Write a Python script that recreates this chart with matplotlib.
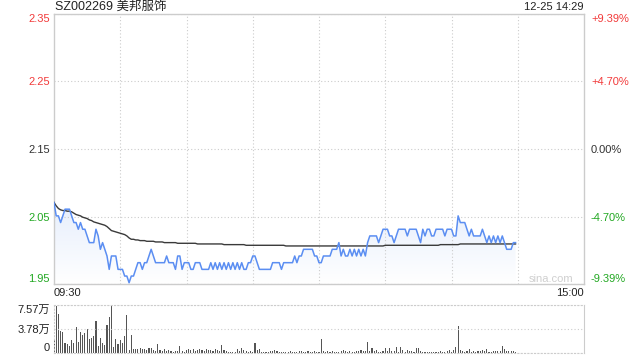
import numpy as np
import matplotlib
matplotlib.use('Agg')
import matplotlib.pyplot as plt
from matplotlib.colors import LinearSegmentedColormap

plt.rcParams['font.family'] = ['Liberation Sans', 'Noto Sans CJK SC']

# ------------------------------------------------------------------------------------------------ #
# data (one value per trading minute from 09:30)
titleText = 'SZ002269 美邦服饰'
stampText = '12-25 14:29'
prevClose = 2.15
limitPct = [-0.0939, -0.047, 0.0, 0.047, 0.0939]
leftTickLabels = ['1.95', '2.05', '2.15', '2.25', '2.35']
rightTickLabels = ['-9.39%', '-4.70%', '0.00%', '+4.70%', '+9.39%']
timeLabels = ['09:30', '15:00']
volTicks = [0, 37850, 75700]
volTickLabels = ['0', '3.78万', '7.57万']

price = [
	2.07, 2.05, 2.05, 2.04, 2.05, 2.06, 2.06, 2.06, 2.05, 2.04,
	2.04, 2.03, 2.04, 2.03, 2.03, 2.02, 2.01, 2.01, 2.01, 2.03,
	2.02, 2.00, 2.01, 2.00, 1.99, 1.97, 1.99, 1.99, 1.99, 1.97,
	1.97, 1.97, 1.96, 1.96, 1.95, 1.96, 1.96, 1.97, 1.98, 1.98,
	1.97, 1.98, 1.98, 1.99, 2.00, 1.99, 1.98, 1.98, 1.98, 1.98,
	1.98, 1.99, 1.98, 1.98, 1.98, 1.97, 1.99, 1.99, 1.97, 1.98,
	1.98, 1.98, 1.97, 1.97, 1.98, 1.98, 1.98, 1.97, 1.97, 1.97,
	1.97, 1.98, 1.97, 1.98, 1.97, 1.98, 1.97, 1.98, 1.97, 1.98,
	1.97, 1.98, 1.97, 1.98, 1.97, 1.98, 1.97, 1.97, 1.98, 1.98,
	1.99, 1.99, 1.98, 1.97, 1.97, 1.97, 1.97, 1.97, 1.97, 1.98,
	1.98, 1.98, 1.98, 1.97, 1.98, 1.98, 1.98, 1.98, 1.98, 1.99,
	1.98, 1.99, 1.99, 2.00, 2.00, 2.00, 2.00, 2.00, 1.99, 1.99,
	1.98, 1.98, 1.99, 1.99, 1.99, 1.99, 2.00, 2.00, 2.00, 2.01,
	1.99, 2.00, 1.99, 1.99, 2.00, 1.99, 2.00, 1.99, 2.00, 1.99,
	2.00, 1.99, 2.01, 2.02, 2.02, 2.02, 2.02, 2.01, 2.02, 2.03,
	2.03, 2.03, 2.02, 2.02, 2.01, 2.02, 2.03, 2.03, 2.03, 2.03,
	2.02, 2.03, 2.03, 2.03, 2.03, 2.02, 2.01, 2.03, 2.02, 2.03,
	2.03, 2.02, 2.02, 2.03, 2.03, 2.03, 2.03, 2.02, 2.03, 2.03,
	2.03, 2.02, 2.02, 2.05, 2.04, 2.04, 2.04, 2.03, 2.02, 2.03,
	2.02, 2.02, 2.02, 2.02, 2.03, 2.02, 2.01, 2.02, 2.01, 2.02,
	2.01, 2.02, 2.01, 2.02, 2.01, 2.00, 2.00, 2.00, 2.01, 2.01,
]

avgPrice = [
	2.070, 2.065, 2.061, 2.059, 2.058, 2.058, 2.057, 2.057, 2.056, 2.054,
	2.052, 2.051, 2.050, 2.048, 2.047, 2.046, 2.044, 2.043, 2.041, 2.040,
	2.039, 2.038, 2.037, 2.036, 2.034, 2.031, 2.028, 2.027, 2.026, 2.025,
	2.024, 2.023, 2.022, 2.020, 2.017, 2.015, 2.015, 2.014, 2.014, 2.013,
	2.013, 2.013, 2.012, 2.012, 2.012, 2.012, 2.011, 2.011, 2.011, 2.011,
	2.010, 2.010, 2.010, 2.010, 2.010, 2.010, 2.009, 2.009, 2.009, 2.009,
	2.009, 2.009, 2.009, 2.009, 2.009, 2.008, 2.008, 2.008, 2.008, 2.008,
	2.008, 2.008, 2.008, 2.008, 2.008, 2.008, 2.008, 2.007, 2.007, 2.007,
	2.007, 2.007, 2.007, 2.007, 2.007, 2.007, 2.007, 2.006, 2.006, 2.006,
	2.006, 2.006, 2.006, 2.006, 2.006, 2.006, 2.006, 2.006, 2.006, 2.006,
	2.006, 2.006, 2.006, 2.006, 2.006, 2.005, 2.005, 2.005, 2.005, 2.005,
	2.005, 2.005, 2.005, 2.005, 2.005, 2.005, 2.005, 2.005, 2.005, 2.005,
	2.005, 2.005, 2.005, 2.005, 2.005, 2.005, 2.005, 2.005, 2.005, 2.005,
	2.005, 2.005, 2.005, 2.005, 2.005, 2.005, 2.005, 2.005, 2.005, 2.005,
	2.005, 2.005, 2.005, 2.005, 2.005, 2.005, 2.005, 2.005, 2.005, 2.005,
	2.006, 2.006, 2.006, 2.006, 2.006, 2.006, 2.006, 2.006, 2.006, 2.006,
	2.006, 2.006, 2.006, 2.006, 2.006, 2.006, 2.006, 2.006, 2.006, 2.006,
	2.006, 2.006, 2.006, 2.006, 2.006, 2.007, 2.007, 2.007, 2.007, 2.007,
	2.007, 2.007, 2.007, 2.007, 2.008, 2.008, 2.008, 2.008, 2.008, 2.008,
	2.008, 2.008, 2.008, 2.008, 2.008, 2.008, 2.008, 2.008, 2.008, 2.008,
	2.008, 2.008, 2.008, 2.008, 2.008, 2.008, 2.008, 2.008, 2.008, 2.008,
]

volume = [
	21600, 74700, 61800, 34500, 33000, 15400, 13900, 11300, 20000, 16500,
	41200, 17500, 33500, 28300, 31400, 38100, 21600, 24200, 26800, 51000,
	11300, 23200, 16500, 12400, 44800, 56600, 75700, 9800, 21600, 14900,
	20000, 16500, 26800, 60200, 4500, 28300, 6200, 6200, 6800, 8200,
	6200, 5800, 4600, 8200, 7100, 5200, 3600, 13900, 5200, 3800,
	6200, 3100, 5200, 3100, 2100, 2600, 3100, 11300, 2600, 2100,
	4600, 6200, 4600, 6200, 3100, 5200, 6200, 4600, 2600, 6200,
	5200, 4100, 3100, 6200, 4100, 3100, 12400, 4600, 3100, 2100,
	2100, 2100, 2100, 6200, 3100, 7100, 4600, 3100, 1600, 2600,
	2100, 15400, 4600, 6200, 2100, 2100, 2100, 1600, 3600, 3100,
	4600, 3100, 2100, 2100, 1600, 1600, 2100, 3600, 2100, 1600,
	2100, 2600, 3600, 2100, 2100, 2600, 1600, 2100, 2600, 2100,
	2100, 21600, 2600, 2100, 3100, 1600, 2600, 2100, 1600, 2100,
	3100, 4600, 3100, 2100, 2600, 1600, 2100, 2600, 3600, 4600,
	2600, 3100, 17500, 3100, 7700, 2600, 4600, 2100, 1600, 2600,
	7700, 3100, 7700, 2600, 2600, 9300, 2100, 8800, 4100, 2100,
	5200, 3100, 3600, 2100, 7700, 7700, 3100, 1600, 1600, 1000,
	1600, 1000, 1600, 1600, 2100, 2600, 1600, 1600, 3100, 5200,
	2100, 4600, 9800, 42200, 5200, 2600, 2100, 3100, 6200, 2100,
	2600, 1600, 2600, 3100, 4100, 3600, 6200, 2100, 1600, 3100,
	2600, 3100, 3100, 10300, 5700, 3100, 2600, 3100, 3100, 1500,
]
# ------------------------------------------------------------------------------------------------ #

upColour = '#f23a3a'
downColour = '#22a822'
flatColour = '#333333'
gridColour = '#cccccc'
lineColour = '#5b8ef2'
tickColours = [downColour, downColour, flatColour, upColour, upColour]


# ------------------------------------------------------------------------------------------------ #
def StyleYLabels(ax, colours):
	labels = ax.get_yticklabels()
	for lab, col in zip(labels, colours):
		lab.set_color(col)
	labels[0].set_va('bottom')
	labels[-1].set_va('top')
# ------------------------------------------------------------------------------------------------ #


# ------------------------------------------------------------------------------------------------ #
def MakePricePanel(fig):
	minutes = np.arange(len(price))
	priceTicks = [prevClose * (1 + p) for p in limitPct]
	yMin, yMax = priceTicks[0], priceTicks[-1]

	ax = fig.add_axes([54/640, 1 - 284/360, 530/640, 270/360])

	# light gradient under the price line
	poly = ax.fill_between(minutes, price, yMin, color='none', lw=0)
	cmap = LinearSegmentedColormap.from_list('fade', ['#ffffff', '#e6eefc'])
	grad = np.linspace(1, 0, 256).reshape(-1, 1)
	im = ax.imshow(grad, extent=[0, minutes[-1], yMin, max(price)], aspect='auto',
		cmap=cmap, origin='upper', zorder=1)
	im.set_clip_path(poly.get_paths()[0], transform=ax.transData)

	ax.plot(minutes, avgPrice, color='#3a3a3a', lw=1.0, zorder=3)
	ax.plot(minutes, price, color=lineColour, lw=1.1, zorder=4)

	ax.set_xlim(0, 240)
	ax.set_ylim(yMin, yMax)

	ax.set_xticks([0, 240])
	ax.set_xticklabels(timeLabels)
	xl = ax.get_xticklabels()
	xl[0].set_ha('left')
	xl[1].set_ha('right')
	ax.set_xticks(range(30, 240, 30), minor=True)

	ax.set_yticks(priceTicks)
	ax.set_yticklabels(leftTickLabels)
	ax.tick_params(axis='both', which='both', length=0, labelsize=8)
	ax.tick_params(axis='y', pad=3)
	ax.tick_params(axis='x', pad=3, colors='#222222')
	StyleYLabels(ax, tickColours)

	ax.grid(axis='y', which='major', color=gridColour, ls=(0, (1, 2)), lw=0.8)
	ax.grid(axis='x', which='minor', color=gridColour, ls=(0, (1, 2)), lw=0.8)
	for s in ax.spines.values():
		s.set_color(gridColour)
		s.set_linewidth(1.0)

	axR = ax.twinx()
	axR.set_ylim(yMin, yMax)
	axR.set_yticks(priceTicks)
	axR.set_yticklabels(rightTickLabels)
	axR.tick_params(axis='y', length=0, labelsize=8, pad=5)
	StyleYLabels(axR, tickColours)
	for s in axR.spines.values():
		s.set_visible(False)

	ax.text(0.979, 0.018, 'sina.com', transform=ax.transAxes, ha='right', va='center',
		fontsize=8, color='#cfcfcf')

	return ax
# ------------------------------------------------------------------------------------------------ #


# ------------------------------------------------------------------------------------------------ #
def MakeVolumePanel(fig):
	minutes = np.arange(len(volume))
	ax = fig.add_axes([54/640, 1 - 353/360, 530/640, 48/360])
	ax.bar(minutes, volume, width=0.5, color='#555555', lw=0)
	ax.set_xlim(0, 240)
	ax.set_ylim(0, volTicks[-1])
	ax.set_xticks([])
	ax.set_yticks(volTicks)
	ax.set_yticklabels(volTickLabels)
	ax.tick_params(axis='y', length=0, labelsize=8, pad=3, colors='#222222')
	labels = ax.get_yticklabels()
	labels[0].set_va('bottom')
	labels[-1].set_va('top')
	ax.grid(axis='y', color=gridColour, ls=(0, (1, 2)), lw=0.8)
	for name, s in ax.spines.items():
		s.set_color(gridColour)
		if name != 'right':
			s.set_linestyle((0, (1, 2)))
	return ax
# ------------------------------------------------------------------------------------------------ #


fig = plt.figure(figsize=(6.4, 3.6), dpi=100)
MakePricePanel(fig)
MakeVolumePanel(fig)
fig.text(55/640, 1 - 7/360, titleText, ha='left', va='center', fontsize=9, color='#222222')
fig.text(584/640, 1 - 7/360, stampText, ha='right', va='center', fontsize=8, color='#222222')
fig.savefig('out.png', dpi=100)
